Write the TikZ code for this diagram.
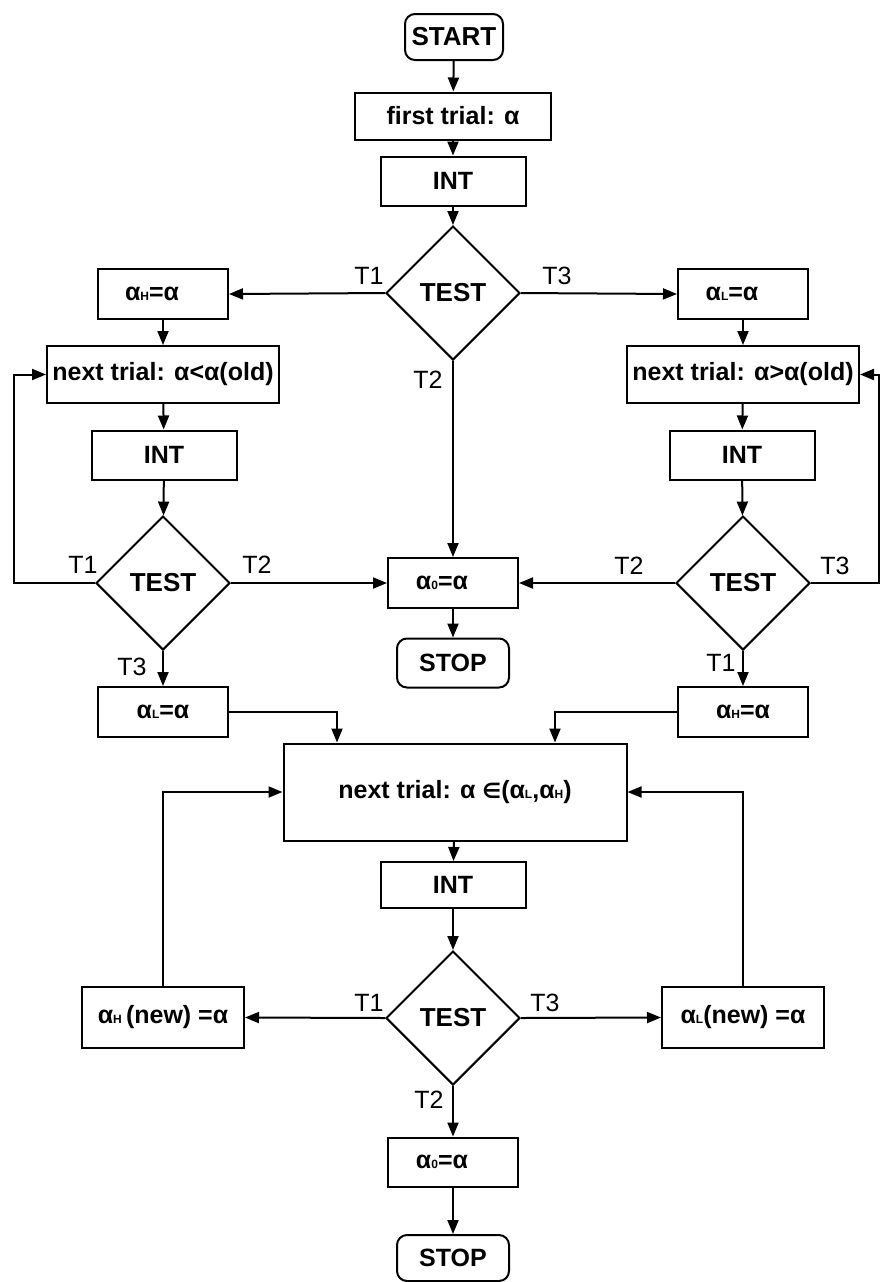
\documentclass[tikz,border=0pt]{standalone}
\usepackage{fontspec}
\setmainfont{Liberation Sans}
\newfontfamily\symfam{DejaVu Sans}
\usetikzlibrary{shapes.geometric,arrows.meta}
% small capital subscripts sitting on the baseline
\newcommand{\lowsub}[1]{{\fontsize{6}{6}\selectfont #1}}
\tikzset{
  boxfont/.style={font=\fontsize{12.5}{14}\selectfont\bfseries},
  box/.style={draw, line width=1pt, inner sep=0pt, boxfont},
  term/.style={box, rounded corners=5pt},
  test/.style={draw, line width=1pt, shape=diamond, aspect=1,
    minimum size=67pt, inner sep=0pt, font=\fontsize{13}{15}\selectfont\bfseries},
  lab/.style={font=\fontsize{12.5}{14}\selectfont, inner sep=0pt},
  flow/.style={line width=1pt, -{Triangle[length=7pt,width=5.5pt]}},
  sbox/.style={box, minimum width=65pt, minimum height=25pt},
  ibox/.style={box, minimum width=72.5pt, minimum height=24.5pt},
}
\begin{document}
\begin{tikzpicture}[x=0.5pt,y=-0.5pt]
\useasboundingbox (0,0) rectangle (880,1282);

% top column
\node[term, minimum width=49pt, minimum height=23pt, font=\fontsize{13}{15}\selectfont\bfseries] (start) at (454,37) {START};
\node[box, minimum width=98pt, minimum height=23.5pt] (first) at (453,116) {first trial: α};
\node[ibox] (int1) at (453,181) {INT};
\node[test] (test1) at (453,293) {TEST};

% first branches
\node[sbox] (aH1) at (163,294) {α\lowsub{H}=α\hspace*{11pt}};
\node[sbox] (aL1) at (743,294) {α\lowsub{L}=α\hspace*{11pt}};
\node[box, minimum width=116pt, minimum height=28.5pt] (nextL) at (163,374.5) {next trial: α<α(old)};
\node[box, minimum width=116pt, minimum height=28.5pt] (nextR) at (743,374.5) {next trial: α>α(old)};
\node[ibox] (intL) at (164,455) {INT};
\node[ibox] (intR) at (742,455) {INT};
\node[test] (testL) at (163,583) {TEST};
\node[test] (testR) at (743,583) {TEST};
\node[sbox] (a0m) at (453,583) {α\lowsub{0}=α\hspace*{11pt}};
\node[term, minimum width=56pt, minimum height=24.5pt] (stop1) at (453,663) {STOP};
\node[sbox] (aLL) at (163,712) {α\lowsub{L}=α};
\node[sbox] (aHR) at (743,712) {α\lowsub{H}=α};

% bisection part
\node[box, minimum width=171.5pt, minimum height=48.5pt] (big) at (455,792)
  {next trial: α {\symfam\bfseries\fontsize{10.5}{12}\selectfont ∈}(α\lowsub{L},α\lowsub{H})};
\node[box, minimum width=72.5pt, minimum height=23pt] (int3) at (453,885) {INT};
\node[test] (test3) at (453,1018) {TEST};
\node[box, minimum width=81pt, minimum height=30.5pt] (aHn) at (163,1017.5) {α\lowsub{H}\,(new) =α};
\node[box, minimum width=81pt, minimum height=30.5pt] (aLn) at (743,1017.5) {α\lowsub{L}(new) =α};
\node[sbox, minimum height=24.5pt] (a0b) at (453,1162) {α\lowsub{0}=α\hspace*{11pt}};
\node[term, minimum width=56pt, minimum height=23pt] (stop2) at (453,1258) {STOP};

% loop corners at the sides
\coordinate (lloop) at (14,583);
\coordinate (rloop) at (879,583);

% connectors
\draw[flow] (start) -- (first);
\draw[flow] (first) -- (int1);
\draw[flow] (int1) -- (test1);
\draw[flow] (test1.west) -- (aH1.east);
\draw[flow] (test1.east) -- (aL1.west);
\draw[flow] (test1.south) -- (a0m.north);
\draw[flow] (aH1) -- (nextL);
\draw[flow] (aL1) -- (nextR);
\draw[flow] (nextL) -- (intL);
\draw[flow] (nextR) -- (intR);
\draw[flow] (intL) -- (testL);
\draw[flow] (intR) -- (testR);
\draw[flow] (testL.west) -- (lloop) |- (nextL.west);
\draw[flow] (testR.east) -- (rloop) |- (nextR.east);
\draw[flow] (testL.east) -- (a0m.west);
\draw[flow] (testR.west) -- (a0m.east);
\draw[flow] (testL.south) -- (aLL.north);
\draw[flow] (testR.south) -- (aHR.north);
\draw[flow] (a0m) -- (stop1);
\draw[flow] (aLL.east) -| ([xshift=-59pt]big.north);
\draw[flow] (aHR.west) -| ([xshift=50pt]big.north);
\draw[flow] (big) -- (int3);
\draw[flow] (int3) -- (test3);
\draw[flow] (test3.west) -- (aHn.east);
\draw[flow] (test3.east) -- (aLn.west);
\draw[flow] (test3.south) -- (a0b.north);
\draw[flow] (aHn.north) |- (big.west);
\draw[flow] (aLn.north) |- (big.east);
\draw[flow] (a0b) -- (stop2);

% branch labels
\node[lab] (t1a) at (369,276) {T1};
\node[lab] (t3a) at (557,276) {T3};
\node[lab] (t2a) at (428,380) {T2};
\node[lab] (t1b) at (83,565) {T1};
\node[lab] (t2b) at (257,565) {T2};
\node[lab] (t3b) at (132,667) {T3};
\node[lab] (t2c) at (629,566) {T2};
\node[lab] (t3c) at (835,566) {T3};
\node[lab] (t1c) at (721,663) {T1};
\node[lab] (t1d) at (369,1003) {T1};
\node[lab] (t3d) at (545,1003) {T3};
\node[lab] (t2d) at (429,1100) {T2};
\end{tikzpicture}
\end{document}
